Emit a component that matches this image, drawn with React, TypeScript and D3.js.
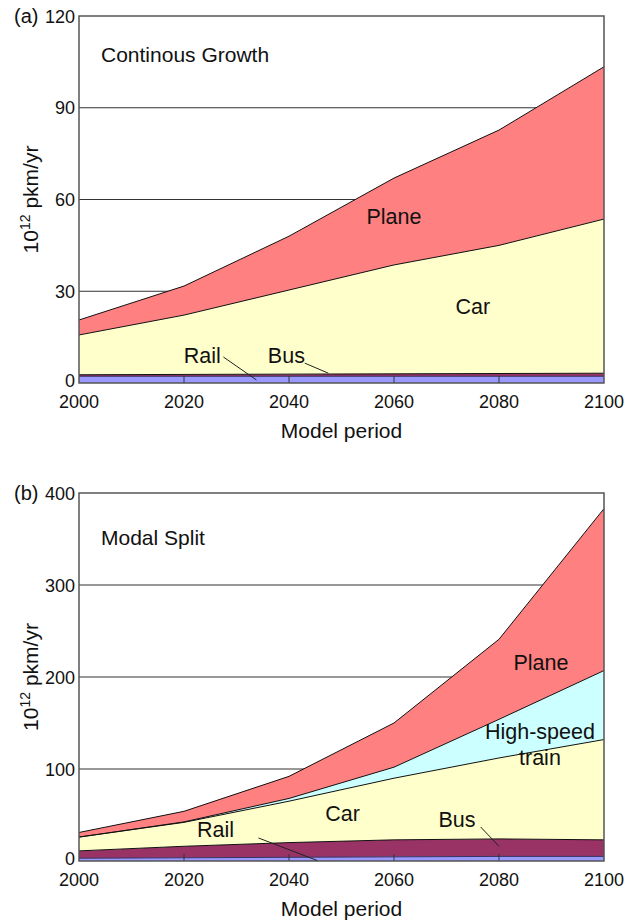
import React from "react";
import * as d3 from "d3";

const years = [2000, 2020, 2040, 2060, 2080, 2100];

// Panel (a) Continous Growth (10^12 pkm/yr, per mode)
const aRail = [2.2, 2.2, 2.2, 2.2, 2.2, 2.2];
const aBus = [0.5, 0.6, 0.7, 0.8, 0.9, 1.0];
const aCar = [13.0, 19.4, 27.5, 35.6, 41.9, 50.4];
const aPlane = [4.9, 9.5, 17.6, 28.4, 37.7, 49.8];

// Panel (b) Modal Split
const bRail = [3, 3.5, 4, 4.5, 5, 5];
const bBus = [8, 12.5, 16, 18.5, 19, 18];
const bCar = [15, 26, 45, 67, 88, 109];
const bHsr = [0, 0.5, 3, 12, 42, 75];
const bPlane = [5, 11.5, 24, 48, 87, 176];

const aTicks = [0, 30, 60, 90, 120];
const bTicks = [0, 100, 200, 300, 400];
const xTicks = [2000, 2020, 2040, 2060, 2080, 2100];

const COLORS: Record<string, string> = {
  rail: "#9999FF",
  bus: "#993366",
  car: "#FFFFCC",
  hsr: "#CCFFFF",
  plane: "#FF8080",
};

const FONT = "'Liberation Sans', Arial, sans-serif";

type Leader = { x1: number; y1: number; x2: number; y2: number };

function Panel(props: {
  top: number;
  bottom: number;
  max: number;
  ticks: number[];
  series: { key: string; values: number[] }[];
  tag: string;
  title: string;
  titleY: number;
  labels: { text: string[]; x: number; y: number }[];
  leaders: Leader[];
}) {
  const { top, bottom, max, ticks, series, tag, title, titleY, labels, leaders } = props;
  const left = 79;
  const right = 604;
  const x = d3.scaleLinear().domain([2000, 2100]).range([left, right]);
  const y = d3.scaleLinear().domain([0, max]).range([bottom, top]);

  const rows = years.map((yr, i) => {
    const r: any = { year: yr };
    series.forEach((s) => (r[s.key] = s.values[i]));
    return r;
  });
  const stack = d3.stack<any>().keys(series.map((s) => s.key));
  const layers = stack(rows);
  const area = d3
    .area<any>()
    .x((d) => x(d.data.year))
    .y0((d) => y(d[0]))
    .y1((d) => y(d[1]));
  const line = d3
    .line<any>()
    .x((d) => x(d.data.year))
    .y((d) => y(d[1]));

  return (
    <g>
      {ticks.slice(1, -1).map((t) => (
        <line key={"g" + t} x1={left} x2={right} y1={y(t)} y2={y(t)} stroke="#333" strokeWidth={1} />
      ))}
      {layers.map((l) => (
        <path key={"a" + l.key} d={area(l) || ""} fill={COLORS[l.key]} stroke="none" />
      ))}
      {layers.map((l) => (
        <path
          key={"l" + l.key}
          d={line(l) || ""}
          fill="none"
          stroke={l.key === "rail" ? "#333366" : "#111"}
          strokeWidth={1}
        />
      ))}
      {xTicks.slice(1, -1).map((t) => (
        <line key={"xt" + t} x1={x(t)} x2={x(t)} y1={bottom} y2={bottom - 7} stroke="#333" strokeWidth={1} />
      ))}
      <rect x={left} y={top} width={right - left} height={bottom - top} fill="none" stroke="#555" strokeWidth={1.5} />
      {ticks.map((t) => (
        <text
          key={"yt" + t}
          x={left - 4}
          y={y(t) + (t === 0 ? 4 : 6.5)}
          textAnchor="end"
          fontSize={18}
          fontFamily={FONT}
          fill="#111"
        >
          {t}
        </text>
      ))}
      {xTicks.map((t) => (
        <text key={"xl" + t} x={x(t)} y={bottom + 25} textAnchor="middle" fontSize={18} fontFamily={FONT} fill="#111">
          {t}
        </text>
      ))}
      <text x={(left + right) / 2} y={bottom + 55} textAnchor="middle" fontSize={21} fontFamily={FONT} fill="#111">
        Model period
      </text>
      <text
        transform={`translate(38, ${(top + bottom) / 2}) rotate(-90)`}
        textAnchor="middle"
        fontSize={21}
        fontFamily={FONT}
        fill="#111"
      >
        10<tspan fontSize={14} dy={-8}>12</tspan>
        <tspan dy={8}> pkm/yr</tspan>
      </text>
      <text x={14} y={top + 7} fontSize={20} fontFamily={FONT} fill="#111">
        {tag}
      </text>
      <text x={101} y={titleY} fontSize={21} fontFamily={FONT} fill="#111">
        {title}
      </text>
      {labels.map((lb, i) =>
        lb.text.map((t, j) => (
          <text
            key={"lb" + i + "-" + j}
            x={x(lb.x)}
            y={y(lb.y) + j * 26}
            textAnchor="middle"
            fontSize={21.5}
            fontFamily={FONT}
            fill="#111"
          >
            {t}
          </text>
        ))
      )}
      {leaders.map((ld, i) => (
        <line key={"ld" + i} x1={x(ld.x1)} y1={y(ld.y1)} x2={x(ld.x2)} y2={y(ld.y2)} stroke="#222" strokeWidth={1} />
      ))}
    </g>
  );
}

export default function App() {
  return (
    <svg
      width={635}
      height={922}
      style={{ position: "absolute", left: 0, top: 0, background: "#fff" }}
      xmlns="http://www.w3.org/2000/svg"
    >
      <Panel
        top={16}
        bottom={383}
        max={120}
        ticks={aTicks}
        tag="(a)"
        title="Continous Growth"
        titleY={62}
        series={[
          { key: "rail", values: aRail },
          { key: "bus", values: aBus },
          { key: "car", values: aCar },
          { key: "plane", values: aPlane },
        ]}
        labels={[
          { text: ["Plane"], x: 2060, y: 52 },
          { text: ["Car"], x: 2075, y: 22.5 },
          { text: ["Rail"], x: 2023.5, y: 6.5 },
          { text: ["Bus"], x: 2039.5, y: 6.5 },
        ]}
        leaders={[
          { x1: 2027.5, y1: 8.5, x2: 2033.8, y2: 1 },
          { x1: 2043, y1: 6.5, x2: 2047.5, y2: 3.2 },
        ]}
      />
      <Panel
        top={493}
        bottom={861}
        max={400}
        ticks={bTicks}
        tag="(b)"
        title="Modal Split"
        titleY={545}
        series={[
          { key: "rail", values: bRail },
          { key: "bus", values: bBus },
          { key: "car", values: bCar },
          { key: "hsr", values: bHsr },
          { key: "plane", values: bPlane },
        ]}
        labels={[
          { text: ["Plane"], x: 2088, y: 208 },
          { text: ["High-speed", "train"], x: 2087.8, y: 133 },
          { text: ["Car"], x: 2050.2, y: 44 },
          { text: ["Bus"], x: 2072, y: 37 },
          { text: ["Rail"], x: 2026, y: 26 },
        ]}
        leaders={[
          { x1: 2076.5, y1: 37, x2: 2080, y2: 16 },
          { x1: 2034.2, y1: 25, x2: 2045.4, y2: 0.5 },
        ]}
      />
    </svg>
  );
}
